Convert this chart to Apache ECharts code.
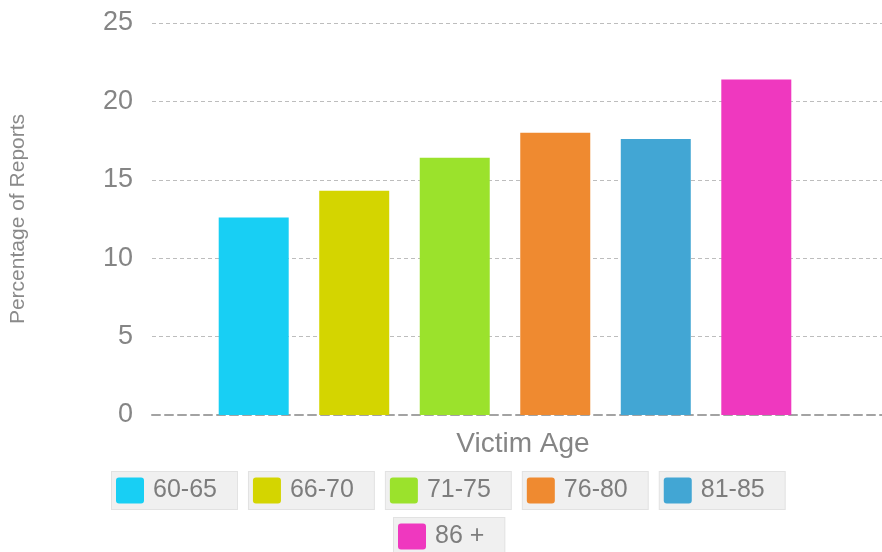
<!DOCTYPE html>
<html>
<head>
<meta charset="utf-8">
<script src="https://cdn.jsdelivr.net/npm/echarts@6/dist/echarts.min.js"></script>
<style>
html,body{margin:0;padding:0;background:#fff;}
#chart{width:882px;height:552px;}
</style>
</head>
<body>
<div id="chart"></div>
<script>
// ---- data ----
const ageGroups = ['60-65', '66-70', '71-75', '76-80', '81-85', '86 +'];
const percentages = [12.6, 14.3, 16.4, 18.0, 17.6, 21.4];
const xCategory = ['Victim Age'];
const yMin = 0, yMax = 25, yStep = 5;

// ---- style ----
const palette = ['#18cff4', '#d4d500', '#9be22c', '#ef8a30', '#42a6d4', '#ef38bf'];
const FONT = 'Liberation Sans, Arial, sans-serif';
const textGrey = '#858585';

const rich = { t: { fontSize: 25, color: '#7d7d7d', fontFamily: FONT, padding: [0, 0, 0, 9], lineHeight: 27 } };
ageGroups.forEach((g, i) => {
  rich['i' + i] = { width: 28, height: 26, backgroundColor: palette[i], borderRadius: 3 };
});
function legendFormatter(name) {
  const i = ageGroups.indexOf(name);
  return '{i' + i + '|}{t|' + name + '}';
}
function makeLegend(names, left, top) {
  return {
    data: names,
    top: top,
    left: left,
    padding: 0,
    itemGap: 6,
    itemWidth: 0,
    itemHeight: 0,
    selectedMode: false,
    formatter: legendFormatter,
    textStyle: {
      backgroundColor: '#f0f0f0',
      borderColor: '#e2e2e2',
      borderWidth: 1,
      padding: [5, 20, 5, 4],
      rich: rich
    }
  };
}

const chart = echarts.init(document.getElementById('chart'), null, { renderer: 'canvas' });
chart.setOption({
  backgroundColor: '#ffffff',
  animation: false,
  textStyle: { fontFamily: FONT },
  legend: [
    makeLegend(ageGroups.slice(0, 5), 107, 471),
    makeLegend(ageGroups.slice(5), 389, 517)
  ],
  grid: [
    { left: 145, right: 0, top: 23, bottom: 137, containLabel: false },
    { left: 128, right: 0, top: 23, bottom: 137, containLabel: false }
  ],
  xAxis: [
    {
      gridIndex: 0,
      type: 'category',
      data: xCategory,
      name: 'Victim Age',
      nameLocation: 'middle',
      nameGap: 15,
      nameTextStyle: { fontSize: 28, color: textGrey, fontFamily: FONT, padding: [0, 0, 0, 12] },
      axisLine: { show: true, lineStyle: { color: '#a3a3a3', width: 2, type: [8, 5] } },
      axisTick: { show: false },
      axisLabel: { show: false },
      splitLine: { show: false }
    },
    {
      gridIndex: 1,
      type: 'category',
      data: xCategory,
      show: false
    }
  ],
  yAxis: [
    {
      gridIndex: 0,
      type: 'value',
      min: yMin, max: yMax, interval: yStep,
      name: 'Percentage of Reports',
      nameLocation: 'middle',
      nameRotate: 90,
      nameGap: 123,
      nameTextStyle: { fontSize: 21, color: '#8a8a8a', fontFamily: FONT },
      axisLine: { show: false },
      axisTick: { show: false },
      axisLabel: { fontSize: 27, color: textGrey, margin: 19, fontFamily: FONT },
      splitLine: { show: true, showMinLine: false, lineStyle: { color: '#bdbdbd', width: 1, type: [4, 3] } }
    },
    {
      gridIndex: 1,
      type: 'value',
      min: yMin, max: yMax, interval: yStep,
      show: false,
      splitLine: { show: false }
    }
  ],
  series: ageGroups.map((g, i) => ({
    name: g,
    type: 'bar',
    xAxisIndex: 1,
    yAxisIndex: 1,
    data: [percentages[i]],
    barWidth: 70,
    barGap: '43.6%',
    itemStyle: { color: palette[i] }
  }))
});
</script>
</body>
</html>
